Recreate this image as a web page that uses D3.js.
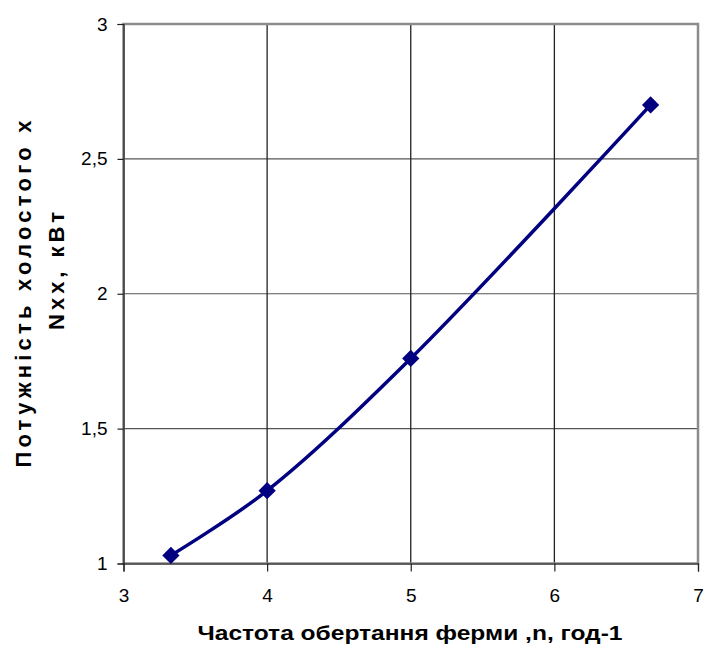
<!DOCTYPE html>
<html>
<head>
<meta charset="utf-8">
<script src="https://cdn.jsdelivr.net/npm/d3@7"></script>
<style>
body{margin:0;background:#fff;}
text{font-family:"Liberation Sans",Arial,sans-serif;}
</style>
</head>
<body>
<svg id="Chart" width="705" height="646"></svg>
<script>
// дані
var freq = [3.33, 4, 5, 6.67];
var power = [1.03, 1.27, 1.76, 2.70];
var xTicks = [3, 4, 5, 6, 7];
var yTicks = [1, 1.5, 2, 2.5, 3];
var yTickLabels = ["1", "1,5", "2", "2,5", "3"];

var plotLeft = 123.5, plotRight = 698, plotTop = 24, plotBottom = 563.5;

var svg = d3.select("#Chart");

var x = d3.scaleLinear().domain([3, 7]).range([plotLeft, plotRight]);
var y = d3.scaleLinear().domain([1, 3]).range([plotBottom, plotTop]);

// сітка
svg.append("g").selectAll("line").data(yTicks.slice(1, 4)).enter()
	.append("line")
	.attr("x1", plotLeft).attr("x2", plotRight)
	.attr("y1", function(d){ return y(d); })
	.attr("y2", function(d){ return y(d); })
	.style("stroke", "#555").style("stroke-width", 1.2);

svg.append("g").selectAll("line").data(xTicks.slice(1, 4)).enter()
	.append("line")
	.attr("y1", plotTop).attr("y2", plotBottom)
	.attr("x1", function(d){ return x(d); })
	.attr("x2", function(d){ return x(d); })
	.style("stroke", "#222").style("stroke-width", 1.3);

// рамка
svg.append("rect")
	.attr("x", plotLeft).attr("y", plotTop)
	.attr("width", plotRight - plotLeft).attr("height", plotBottom - plotTop)
	.style("fill", "none").style("stroke", "#8c8c8c").style("stroke-width", 2.5);

// осі
var yAxis = d3.axisLeft(y).tickValues(yTicks)
	.tickFormat(function(d, i){ return yTickLabels[i]; })
	.tickSize(6).tickPadding(10);
var gy = svg.append("g").attr("transform", "translate(" + plotLeft + ",0)").call(yAxis);

var xAxis = d3.axisBottom(x).tickValues(xTicks)
	.tickFormat(d3.format("d"))
	.tickSize(8).tickPadding(16);
var gx = svg.append("g").attr("transform", "translate(0," + plotBottom + ")").call(xAxis);

[gx, gy].forEach(function(g){
	g.select(".domain").style("stroke", "#222").style("stroke-width", 1.2);
	g.selectAll(".tick line").style("stroke", "#222").style("stroke-width", 1.2);
	g.selectAll(".tick text").style("font-size", "19px").style("fill", "#000")
		.style("font-family", "'Liberation Sans',Arial,sans-serif");
});
gx.selectAll(".tick text").attr("dy", "0.75em");

// лінія
var line = d3.line()
	.x(function(d, i){ return x(freq[i]); })
	.y(function(d, i){ return y(power[i]); })
	.curve(d3.curveCatmullRom.alpha(0.5));

svg.append("path")
	.attr("d", line(freq))
	.style("fill", "none")
	.style("stroke", "#000080")
	.style("stroke-width", 3.5);

svg.append("g").selectAll("path").data(freq).enter()
	.append("path")
	.attr("d", d3.symbol().type(d3.symbolDiamond2).size(190))
	.attr("transform", function(d, i){ return "translate(" + x(d) + "," + y(power[i]) + ")"; })
	.style("fill", "#000080");

// підписи осей
svg.append("text")
	.attr("x", 410).attr("y", 640)
	.attr("text-anchor", "middle")
	.attr("textLength", 425).attr("lengthAdjust", "spacingAndGlyphs")
	.style("font-size", "21px").style("font-weight", "bold")
	.text("Частота обертання ферми ,n, год-1");

svg.append("text")
	.attr("transform", "translate(31,294) rotate(-90)")
	.attr("text-anchor", "middle")
	.attr("textLength", 347).attr("lengthAdjust", "spacing")
	.style("font-size", "22px").style("font-weight", "bold")
	.text("Потужність холостого х");

svg.append("text")
	.attr("transform", "translate(64,271) rotate(-90)")
	.attr("text-anchor", "middle")
	.attr("textLength", 118).attr("lengthAdjust", "spacing")
	.style("font-size", "22px").style("font-weight", "bold")
	.text("Nxx, кВт");
</script>
</body>
</html>
